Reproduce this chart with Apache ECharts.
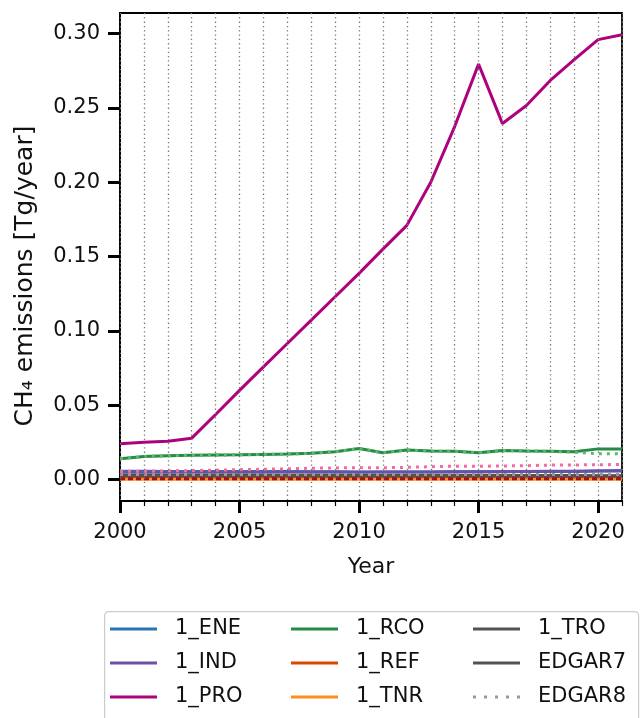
<!DOCTYPE html>
<html>
<head>
<meta charset="utf-8">
<script src="https://cdn.jsdelivr.net/npm/echarts@6/dist/echarts.min.js"></script>
<style>
html,body{margin:0;padding:0;background:#fff;}
#chart{width:640px;height:718px;}
</style>
</head>
<body>
<div id="chart"></div>
<script>
const years = [2000,2001,2002,2003,2004,2005,2006,2007,2008,2009,2010,2011,2012,2013,2014,2015,2016,2017,2018,2019,2020,2021];
const ene = [0.0055,0.0055,0.0054,0.0054,0.0054,0.0053,0.0053,0.0053,0.0052,0.0052,0.0050,0.0051,0.0051,0.0051,0.0052,0.0052,0.0052,0.0053,0.0053,0.0054,0.0058,0.0060];
const ind = [0.0048,0.0048,0.0048,0.0048,0.0049,0.0049,0.0049,0.0050,0.0050,0.0050,0.0049,0.0050,0.0051,0.0051,0.0052,0.0052,0.0053,0.0054,0.0055,0.0056,0.0057,0.0058];
const pro = [0.0240,0.0251,0.0257,0.0278,0.0437,0.0600,0.0758,0.0915,0.1072,0.1230,0.1387,0.1550,0.1710,0.2000,0.2375,0.2795,0.2395,0.2517,0.2685,0.2825,0.2960,0.2993];
const rco = [0.0139,0.0155,0.0160,0.0163,0.0165,0.0166,0.0169,0.0171,0.0176,0.0186,0.0208,0.0180,0.0198,0.0191,0.0190,0.0180,0.0195,0.0192,0.0190,0.0186,0.0206,0.0206];
const refi = [0.0008,0.0008,0.0008,0.0008,0.0008,0.0008,0.0008,0.0008,0.0008,0.0008,0.0008,0.0008,0.0008,0.0008,0.0008,0.0008,0.0008,0.0008,0.0008,0.0008,0.0008,0.0008];
const tnr = [0.0002,0.0002,0.0002,0.0002,0.0002,0.0002,0.0002,0.0002,0.0002,0.0002,0.0002,0.0002,0.0002,0.0002,0.0002,0.0002,0.0002,0.0002,0.0002,0.0002,0.0002,0.0002];
const tro = [0.0028,0.0028,0.0028,0.0028,0.0028,0.0028,0.0028,0.0028,0.0028,0.0028,0.0027,0.0027,0.0027,0.0027,0.0027,0.0027,0.0027,0.0027,0.0027,0.0027,0.0026,0.0026];
const edgar7 = [0.0024,0.0024,0.0024,0.0024,0.0024,0.0024,0.0024,0.0024,0.0024,0.0024,0.0024,0.0024,0.0024,0.0024,0.0024,0.0024,0.0024,0.0024,0.0024,0.0024,0.0024,0.0024];
const edgar8 = [0.0033,0.0033,0.0033,0.0033,0.0033,0.0033,0.0033,0.0033,0.0033,0.0033,0.0033,0.0033,0.0033,0.0033,0.0033,0.0033,0.0033,0.0033,0.0033,0.0033,0.0033,0.0033];
const edgar8Pro = [0.0054,0.0056,0.0058,0.0060,0.0063,0.0066,0.0069,0.0072,0.0076,0.0078,0.0080,0.0079,0.0082,0.0086,0.0090,0.0089,0.0091,0.0093,0.0097,0.0098,0.0099,0.0101];
const edgar8Rco = [0.0139,0.0155,0.0160,0.0163,0.0165,0.0166,0.0169,0.0171,0.0176,0.0186,0.0208,0.0180,0.0198,0.0191,0.0190,0.0180,0.0195,0.0192,0.0190,0.0183,0.0173,0.0173];
const edgar7Ref = [0.0005,0.0005,0.0005,0.0005,0.0005,0.0005,0.0005,0.0005,0.0005,0.0005,0.0005,0.0005,0.0005,0.0005,0.0005,0.0005,0.0005,0.0005,0.0005,0.0005,0.0005,0.0005];
const yTicks = [0, 0.05, 0.10, 0.15, 0.20, 0.25, 0.30];
const xTicks = [2000, 2005, 2010, 2015, 2020];
const legendCols = [['1_ENE','1_IND','1_PRO'],['1_RCO','1_REF','1_TNR'],['1_TRO','EDGAR7','EDGAR8']];

const FONT = 'DejaVu Sans';
const SOLID_ICON = 'path://M0,0h47v3h-47z';
const DOT_ICON = 'path://M0,0h3v3h-3z M11,0h3v3h-3z M22,0h3v3h-3z M33,0h3v3h-3z M44,0h3v3h-3z';
const pts = arr => years.map((y,i)=>[y, arr[i]]);
function line(name, arr, color, type, width) {
  return {
    name: name, type: 'line', data: pts(arr), symbol: 'none',
    xAxisIndex: 0, yAxisIndex: 0,
    lineStyle: {color: color, width: width || 3, type: type || 'solid', cap: 'butt'},
    itemStyle: {color: color}, emphasis: {disabled: true}, animation: false
  };
}
function legendItems(names) {
  return names.map(n => ({name: n, icon: n === 'EDGAR8' ? DOT_ICON : SOLID_ICON}));
}

const chart = echarts.init(document.getElementById('chart'), null, {renderer: 'canvas'});
const legendBase = {
  orient: 'vertical', top: 617, padding: 0, itemWidth: 47, itemHeight: 3, itemGap: 10,
  textStyle: {fontFamily: FONT, fontSize: 21, color: '#111', padding: [0,0,0,13], lineHeight: 24},
  selectedMode: false
};
chart.setOption({
  animation: false,
  textStyle: {fontFamily: FONT},
  graphic: [{type: 'rect', left: 104, top: 611, shape: {width: 534, height: 130, r: 4},
             style: {fill: '#fff', stroke: '#cccccc', lineWidth: 1.2}, z: -1}],
  grid: {left: 120, right: 18, top: 13, bottom: 217, show: true, borderColor: '#000', borderWidth: 1.8},
  legend: [
    Object.assign({}, legendBase, {left: 110, data: legendItems(legendCols[0])}),
    Object.assign({}, legendBase, {left: 291, data: legendItems(legendCols[1])}),
    Object.assign({}, legendBase, {left: 473, data: legendItems(legendCols[2])})
  ],
  xAxis: [{
    type: 'value', min: 2000, max: 2021, interval: 5, position: 'bottom', z: 10,
    name: 'Year', nameLocation: 'middle', nameGap: 55,
    nameTextStyle: {fontFamily: FONT, fontSize: 22, color: '#111'},
    axisLine: {show: true, onZero: false, lineStyle: {color: '#000', width: 1.8}},
    axisTick: {show: true, length: 12, lineStyle: {color: '#000', width: 3}, customValues: xTicks},
    axisLabel: {fontFamily: FONT, fontSize: 21, color: '#111', margin: 21, customValues: xTicks, formatter: v => String(v)},
    splitLine: {show: false}
  }, {
    type: 'value', min: 2000, max: 2021, interval: 1, position: 'bottom', z: 10,
    axisLine: {show: false, onZero: false},
    axisTick: {show: true, length: 5, lineStyle: {color: '#000', width: 1.2}},
    axisLabel: {show: false},
    splitLine: {show: true, lineStyle: {color: '#777', width: 1.3, type: [1.3, 3]}}
  }],
  yAxis: {
    type: 'value', min: -0.01447, max: 0.3139,
    name: 'CH\u2084 emissions [Tg/year]', nameLocation: 'middle', nameGap: 82, nameRotate: 90,
    nameTextStyle: {fontFamily: FONT, fontSize: 25, color: '#111', padding: [0, 38, 0, 0]},
    axisLine: {show: true, onZero: false, lineStyle: {color: '#000', width: 1.8}},
    axisTick: {show: true, length: 12, lineStyle: {color: '#000', width: 3}, customValues: yTicks},
    axisLabel: {fontFamily: FONT, fontSize: 21, color: '#111', margin: 20, customValues: yTicks, formatter: v => v.toFixed(2)},
    splitLine: {show: false}
  },
  series: [
    line('1_ENE', ene, '#2c73b4'),
    line('1_IND', ind, '#6a51a3'),
    line('1_PRO', pro, '#ae017e'),
    line('1_RCO', rco, '#238b45'),
    line('1_REF', refi, '#d94801'),
    line('1_TNR', tnr, '#fd8d1c'),
    line('1_TRO', tro, '#525252'),
    line('EDGAR7', edgar7, '#525252'),
    line('EDGAR7 1_REF', edgar7Ref, '#a50f15', [5, 3]),
    line('EDGAR8 1_RCO', edgar8Rco, '#5cb86b', [3, 5]),
    line('EDGAR8 1_PRO', edgar8Pro, '#f768a1', [3, 5]),
    line('EDGAR8', edgar8, '#999999', [3, 5])
  ]
});
</script>
</body>
</html>
